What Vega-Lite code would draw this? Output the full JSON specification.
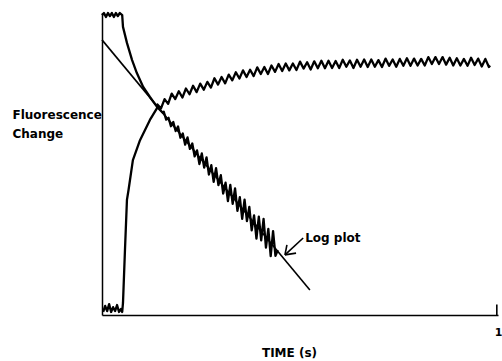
{
  "$schema": "https://vega.github.io/schema/vega-lite/v6.json",
  "width": 396,
  "height": 302,
  "autosize": {"type": "none"},
  "padding": {"left": 102, "top": 13, "right": 4, "bottom": 46},
  "background": "white",
  "config": {"view": {"stroke": null}},
  "data": {"values": [
    {"s":"rise","t":0.003,"f":0.010},{"s":"rise","t":0.008,"f":0.030},{"s":"rise","t":0.013,"f":0.013},{"s":"rise","t":0.018,"f":0.036},{"s":"rise","t":0.023,"f":0.010},{"s":"rise","t":0.028,"f":0.026},{"s":"rise","t":0.033,"f":0.013},{"s":"rise","t":0.038,"f":0.033},{"s":"rise","t":0.043,"f":0.010},{"s":"rise","t":0.048,"f":0.020},{"s":"rise","t":0.051,"f":0.010},
    {"s":"rise","t":0.053,"f":0.040},{"s":"rise","t":0.058,"f":0.215},{"s":"rise","t":0.063,"f":0.381},{"s":"rise","t":0.067,"f":0.414},{"s":"rise","t":0.078,"f":0.513},{"s":"rise","t":0.096,"f":0.579},{"s":"rise","t":0.121,"f":0.646},{"s":"rise","t":0.139,"f":0.685},
    {"s":"rise","t":0.140,"f":0.697},{"s":"rise","t":0.149,"f":0.684},{"s":"rise","t":0.158,"f":0.715},{"s":"rise","t":0.167,"f":0.699},{"s":"rise","t":0.176,"f":0.733},{"s":"rise","t":0.185,"f":0.715},{"s":"rise","t":0.194,"f":0.741},{"s":"rise","t":0.203,"f":0.720},{"s":"rise","t":0.212,"f":0.750},{"s":"rise","t":0.221,"f":0.731},
    {"s":"rise","t":0.230,"f":0.759},{"s":"rise","t":0.239,"f":0.738},{"s":"rise","t":0.248,"f":0.766},{"s":"rise","t":0.257,"f":0.746},{"s":"rise","t":0.266,"f":0.772},{"s":"rise","t":0.275,"f":0.753},{"s":"rise","t":0.284,"f":0.784},{"s":"rise","t":0.293,"f":0.763},{"s":"rise","t":0.302,"f":0.788},{"s":"rise","t":0.311,"f":0.767},
    {"s":"rise","t":0.320,"f":0.796},{"s":"rise","t":0.329,"f":0.777},{"s":"rise","t":0.338,"f":0.804},{"s":"rise","t":0.347,"f":0.783},{"s":"rise","t":0.356,"f":0.810},{"s":"rise","t":0.365,"f":0.788},{"s":"rise","t":0.374,"f":0.812},{"s":"rise","t":0.383,"f":0.791},{"s":"rise","t":0.392,"f":0.820},{"s":"rise","t":0.401,"f":0.798},
    {"s":"rise","t":0.410,"f":0.821},{"s":"rise","t":0.419,"f":0.798},{"s":"rise","t":0.428,"f":0.826},{"s":"rise","t":0.437,"f":0.805},{"s":"rise","t":0.446,"f":0.831},{"s":"rise","t":0.455,"f":0.808},{"s":"rise","t":0.464,"f":0.833},{"s":"rise","t":0.473,"f":0.810},{"s":"rise","t":0.482,"f":0.833},{"s":"rise","t":0.491,"f":0.811},
    {"s":"rise","t":0.500,"f":0.839},{"s":"rise","t":0.509,"f":0.816},{"s":"rise","t":0.518,"f":0.837},{"s":"rise","t":0.527,"f":0.813},{"s":"rise","t":0.536,"f":0.840},{"s":"rise","t":0.545,"f":0.817},{"s":"rise","t":0.554,"f":0.842},{"s":"rise","t":0.563,"f":0.817},{"s":"rise","t":0.572,"f":0.842},{"s":"rise","t":0.581,"f":0.818},
    {"s":"rise","t":0.590,"f":0.841},{"s":"rise","t":0.599,"f":0.818},{"s":"rise","t":0.608,"f":0.845},{"s":"rise","t":0.617,"f":0.822},{"s":"rise","t":0.626,"f":0.843},{"s":"rise","t":0.635,"f":0.818},{"s":"rise","t":0.644,"f":0.845},{"s":"rise","t":0.653,"f":0.822},{"s":"rise","t":0.662,"f":0.846},{"s":"rise","t":0.671,"f":0.821},
    {"s":"rise","t":0.680,"f":0.846},{"s":"rise","t":0.689,"f":0.822},{"s":"rise","t":0.698,"f":0.844},{"s":"rise","t":0.707,"f":0.821},{"s":"rise","t":0.716,"f":0.849},{"s":"rise","t":0.725,"f":0.825},{"s":"rise","t":0.734,"f":0.846},{"s":"rise","t":0.743,"f":0.822},{"s":"rise","t":0.752,"f":0.848},{"s":"rise","t":0.761,"f":0.825},
    {"s":"rise","t":0.770,"f":0.850},{"s":"rise","t":0.779,"f":0.825},{"s":"rise","t":0.788,"f":0.849},{"s":"rise","t":0.797,"f":0.826},{"s":"rise","t":0.806,"f":0.848},{"s":"rise","t":0.815,"f":0.826},{"s":"rise","t":0.824,"f":0.854},{"s":"rise","t":0.833,"f":0.831},{"s":"rise","t":0.842,"f":0.854},{"s":"rise","t":0.851,"f":0.831},
    {"s":"rise","t":0.860,"f":0.854},{"s":"rise","t":0.869,"f":0.829},{"s":"rise","t":0.878,"f":0.852},{"s":"rise","t":0.887,"f":0.826},{"s":"rise","t":0.896,"f":0.850},{"s":"rise","t":0.905,"f":0.826},{"s":"rise","t":0.914,"f":0.848},{"s":"rise","t":0.923,"f":0.825},{"s":"rise","t":0.932,"f":0.852},{"s":"rise","t":0.941,"f":0.828},
    {"s":"rise","t":0.950,"f":0.849},{"s":"rise","t":0.959,"f":0.823},{"s":"rise","t":0.968,"f":0.848},{"s":"rise","t":0.977,"f":0.821},{"s":"rise","t":0.980,"f":0.826},
    {"s":"decay","t":0.000,"f":0.993},{"s":"decay","t":0.005,"f":1.0},{"s":"decay","t":0.010,"f":0.987},{"s":"decay","t":0.015,"f":1.0},{"s":"decay","t":0.020,"f":0.990},{"s":"decay","t":0.025,"f":1.0},{"s":"decay","t":0.030,"f":0.987},{"s":"decay","t":0.035,"f":1.0},{"s":"decay","t":0.040,"f":0.990},{"s":"decay","t":0.045,"f":1.0},{"s":"decay","t":0.051,"f":0.993},
    {"s":"decay","t":0.053,"f":0.954},{"s":"decay","t":0.063,"f":0.901},{"s":"decay","t":0.076,"f":0.844},{"s":"decay","t":0.088,"f":0.801},{"s":"decay","t":0.104,"f":0.755},{"s":"decay","t":0.121,"f":0.722},{"s":"decay","t":0.139,"f":0.689},{"s":"decay","t":0.154,"f":0.669},
    {"s":"decay","t":0.156,"f":0.673},{"s":"decay","t":0.162,"f":0.647},{"s":"decay","t":0.168,"f":0.653},{"s":"decay","t":0.174,"f":0.625},{"s":"decay","t":0.180,"f":0.639},{"s":"decay","t":0.186,"f":0.609},{"s":"decay","t":0.192,"f":0.624},{"s":"decay","t":0.198,"f":0.587},{"s":"decay","t":0.204,"f":0.601},{"s":"decay","t":0.210,"f":0.564},
    {"s":"decay","t":0.216,"f":0.588},{"s":"decay","t":0.222,"f":0.550},{"s":"decay","t":0.228,"f":0.568},{"s":"decay","t":0.234,"f":0.525},{"s":"decay","t":0.240,"f":0.545},{"s":"decay","t":0.246,"f":0.500},{"s":"decay","t":0.252,"f":0.535},{"s":"decay","t":0.258,"f":0.488},{"s":"decay","t":0.264,"f":0.522},{"s":"decay","t":0.270,"f":0.465},
    {"s":"decay","t":0.276,"f":0.496},{"s":"decay","t":0.282,"f":0.441},{"s":"decay","t":0.288,"f":0.486},{"s":"decay","t":0.294,"f":0.430},{"s":"decay","t":0.300,"f":0.463},{"s":"decay","t":0.306,"f":0.402},{"s":"decay","t":0.312,"f":0.438},{"s":"decay","t":0.318,"f":0.377},{"s":"decay","t":0.324,"f":0.431},{"s":"decay","t":0.330,"f":0.368},
    {"s":"decay","t":0.336,"f":0.419},{"s":"decay","t":0.342,"f":0.345},{"s":"decay","t":0.348,"f":0.390},{"s":"decay","t":0.354,"f":0.318},{"s":"decay","t":0.360,"f":0.382},{"s":"decay","t":0.366,"f":0.311},{"s":"decay","t":0.372,"f":0.358},{"s":"decay","t":0.378,"f":0.280},{"s":"decay","t":0.384,"f":0.330},{"s":"decay","t":0.390,"f":0.253},
    {"s":"decay","t":0.396,"f":0.326},{"s":"decay","t":0.402,"f":0.247},{"s":"decay","t":0.408,"f":0.318},{"s":"decay","t":0.414,"f":0.223},{"s":"decay","t":0.420,"f":0.285},{"s":"decay","t":0.426,"f":0.195},{"s":"decay","t":0.432,"f":0.278},{"s":"decay","t":0.438,"f":0.196},{"s":"decay","t":0.444,"f":0.215},
    {"s":"log","t":0.0,"f":0.911},{"s":"log","t":0.525,"f":0.083},
    {"s":"arrow","t":0.508,"f":0.255},{"s":"arrow","t":0.462,"f":0.199},
    {"s":"barb1","t":0.467,"f":0.232},{"s":"barb1","t":0.462,"f":0.199},
    {"s":"barb2","t":0.462,"f":0.199},{"s":"barb2","t":0.490,"f":0.205},
    {"s":"tick","t":0.997,"f":0.0},{"s":"tick","t":0.997,"f":0.035}
  ]},
  "encoding": {
    "x": {"field": "t", "type": "quantitative", "scale": {"domain": [0, 1], "nice": false, "zero": false},
      "axis": {"title": "TIME (s)", "values": [1], "ticks": false, "grid": false, "labelFontSize": 11, "labelFont": "DejaVu Sans", "labelFontWeight": "bold", "labelColor": "black", "labelPadding": 11, "labelFlush": false, "labelOverlap": false, "domainColor": "black", "domainWidth": 1.5, "titleFontSize": 12, "titleFont": "DejaVu Sans", "titleFontWeight": "bold", "titleColor": "black", "titleX": 187, "titleY": 41, "titleBaseline": "alphabetic", "titleAlign": "center"}},
    "y": {"field": "f", "type": "quantitative", "scale": {"domain": [0, 1], "nice": false, "zero": false},
      "axis": {"title": ["Fluorescence", "Change"], "ticks": false, "labels": false, "grid": false, "domainColor": "black", "domainWidth": 1.5, "titleAngle": 0, "titleAlign": "left", "titleBaseline": "alphabetic", "titleX": -90, "titleY": 105, "titleLineHeight": 19, "titleFontSize": 12, "titleFont": "DejaVu Sans", "titleFontWeight": "bold", "titleColor": "black"}}
  },
  "layer": [
    {
      "transform": [{"filter": {"field": "s", "oneOf": ["rise", "decay"]}}],
      "mark": {"type": "line", "color": "black", "strokeWidth": 2.3, "strokeJoin": "round"},
      "encoding": {"detail": {"field": "s"}}
    },
    {
      "transform": [{"filter": {"field": "s", "oneOf": ["log", "arrow", "barb1", "barb2", "tick"]}}],
      "mark": {"type": "line", "color": "black", "strokeWidth": 1.6, "clip": false},
      "encoding": {"detail": {"field": "s"}}
    },
    {
      "data": {"values": [{"t": 0.513, "f": 0.242, "label": "Log plot"}]},
      "mark": {"type": "text", "align": "left", "baseline": "alphabetic", "font": "DejaVu Sans", "fontSize": 12, "fontWeight": "bold", "color": "black"},
      "encoding": {"text": {"field": "label"}}
    }
  ]
}
